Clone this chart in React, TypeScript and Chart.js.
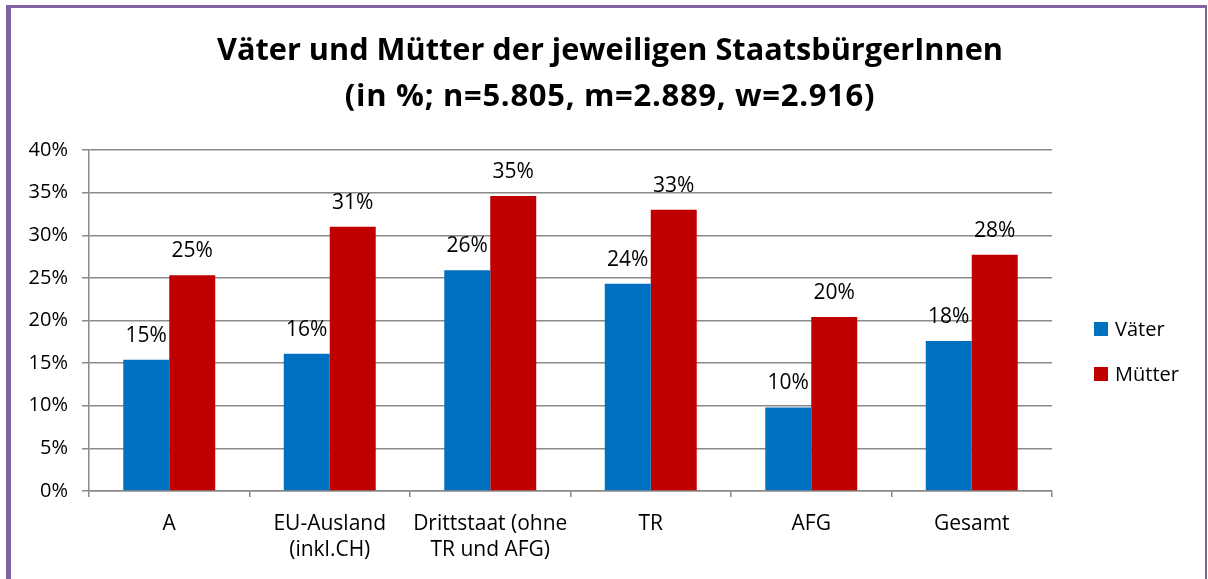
import React, { useEffect, useRef } from "react";
import { Chart, registerables } from "chart.js";

Chart.register(...registerables);

const titleLines = [
  "Väter und Mütter der jeweiligen StaatsbürgerInnen",
  "(in %; n=5.805, m=2.889, w=2.916)",
];
const categories: (string | string[])[] = [
  "A",
  ["EU-Ausland", "(inkl.CH)"],
  ["Drittstaat (ohne", "TR und AFG)"],
  "TR",
  "AFG",
  "Gesamt",
];
const seriesNames = ["Väter", "Mütter"];
const vaeter = [15.4, 16.1, 25.9, 24.3, 9.8, 17.6];
const muetter = [25.3, 31.0, 34.6, 33.0, 20.4, 27.7];
const yMax = 40;
const yStep = 5;

const BLUE = "#0070C0";
const RED = "#C00000";
const GRID = "#8a8a8a";
const FONT = "'Open Sans', sans-serif";

const titlePlugin = {
  id: "customTitle",
  afterDraw(chart: any) {
    const ctx = chart.ctx;
    ctx.save();
    ctx.fillStyle = "#000";
    ctx.textAlign = "center";
    ctx.textBaseline = "alphabetic";
    const cx = 610;
    ctx.font = `bold 30.7px ${FONT}`;
    ctx.fillText(titleLines[0], cx, 60);
    ctx.font = `bold 31px ${FONT}`;
    try {
      (ctx as any).letterSpacing = "0.7px";
    } catch (e) {}
    ctx.fillText(titleLines[1], cx, 106);
    ctx.restore();
  },
};

const dataLabelPlugin = {
  id: "dataLabels",
  afterDatasetsDraw(chart: any) {
    const ctx = chart.ctx;
    ctx.save();
    ctx.font = `21px ${FONT}`;
    ctx.fillStyle = "#000";
    ctx.textAlign = "center";
    ctx.textBaseline = "alphabetic";
    chart.data.datasets.forEach((ds: any, di: number) => {
      const meta = chart.getDatasetMeta(di);
      meta.data.forEach((bar: any, i: number) => {
        const v = ds.data[i];
        ctx.fillText(Math.round(v) + "%", bar.x, bar.y - 18);
      });
    });
    ctx.restore();
  },
};

const legendPlugin = {
  id: "customLegend",
  afterDraw(chart: any) {
    const ctx = chart.ctx;
    ctx.save();
    ctx.font = `20px ${FONT}`;
    ctx.textAlign = "left";
    ctx.textBaseline = "alphabetic";
    const x0 = chart.chartArea.right + 42;
    const y0 = 322;
    chart.data.datasets.forEach((ds: any, i: number) => {
      const y = y0 + i * 45;
      ctx.fillStyle = ds.backgroundColor;
      ctx.fillRect(x0, y, 14, 14);
      ctx.fillStyle = "#000";
      ctx.fillText(ds.label, x0 + 21, y + 14);
    });
    ctx.restore();
  },
};

export default function App() {
  const ref = useRef<HTMLCanvasElement | null>(null);
  useEffect(() => {
    if (!ref.current) return;
    const chart = new Chart(ref.current, {
      type: "bar",
      data: {
        labels: categories,
        datasets: [
          { label: seriesNames[0], data: vaeter, backgroundColor: BLUE },
          { label: seriesNames[1], data: muetter, backgroundColor: RED },
        ],
      },
      options: {
        animation: false,
        responsive: false,
        maintainAspectRatio: false,
        layout: { padding: { left: 0, right: 156, top: 150, bottom: 0 } },
        datasets: {
          bar: { barPercentage: 1, categoryPercentage: 0.573 },
        },
        plugins: {
          legend: { display: false },
          tooltip: { enabled: false },
          title: { display: false },
        },
        scales: {
          x: {
            grid: {
              offset: true,
              drawOnChartArea: false,
              drawTicks: true,
              tickLength: 6,
              color: GRID,
              lineWidth: 1.5,
            },
            border: { display: true, color: GRID, width: 1.5 },
            ticks: {
              color: "#000",
              padding: 14,
              font: { family: FONT, size: 21, lineHeight: 1.24 },
              maxRotation: 0,
              autoSkip: false,
            },
            afterFit: (s: any) => {
              s.height = 88;
            },
          },
          y: {
            min: 0,
            max: yMax,
            grid: { color: GRID, lineWidth: 1.5, tickLength: 7, drawTicks: true },
            border: { display: true, color: GRID, width: 1.5 },
            ticks: {
              stepSize: yStep,
              color: "#000",
              padding: 14,
              font: { family: FONT, size: 20 },
              callback: (v: any) => v + "%",
            },
            afterFit: (s: any) => {
              s.width = 89;
            },
          },
        },
      },
      plugins: [titlePlugin, dataLabelPlugin, legendPlugin],
    });
    return () => chart.destroy();
  }, []);

  return (
    <div style={{ position: "fixed", left: 0, top: 0, width: 1208, height: 579, background: "#fff", overflow: "hidden" }}>
      <canvas ref={ref} width={1208} height={579} style={{ position: "absolute", left: 0, top: 0 }} />
      <div
        style={{
          position: "absolute",
          left: 6,
          top: 5,
          width: 1194,
          height: 600,
          borderLeft: "5px solid #8064A2",
          borderTop: "3px solid #8064A2",
          borderRight: "2px solid #8064A2",
          pointerEvents: "none",
        }}
      />
    </div>
  );
}
